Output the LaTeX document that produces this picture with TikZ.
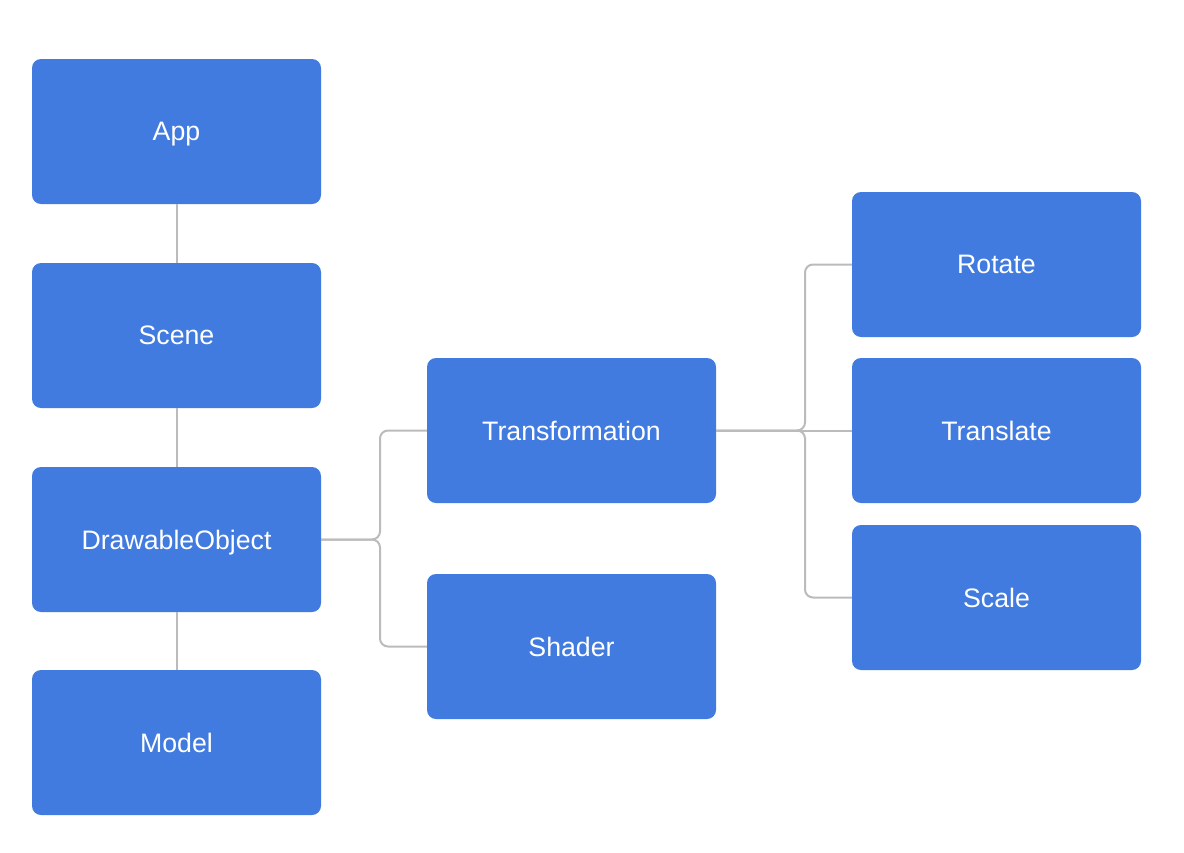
\documentclass[tikz,border=0pt]{standalone}
\usepackage{fontspec}
\setmainfont{Liberation Sans}
\definecolor{boxblue}{RGB}{65,123,223}
\definecolor{linkgray}{RGB}{187,187,187}
\begin{document}
\begin{tikzpicture}[
    x=1pt, y=-1pt,
    blk/.style={fill=boxblue, rounded corners=9pt, minimum width=289pt, minimum height=145pt,
      inner sep=0pt, text depth=0pt, text=white, font=\fontsize{26.7}{30}\selectfont},
    link/.style={draw=linkgray, line width=2pt, rounded corners=8pt}
  ]
  \useasboundingbox (0,0) rectangle (1184,852);
  % left column
  \node[blk] (app) at (176.5,131.5) {App};
  \node[blk] (scene) at (176.5,335.5) {Scene};
  \node[blk] (drawable) at (176.5,539.5) {DrawableObject};
  \node[blk] (model) at (176.5,742.5) {Model};
  % middle column
  \node[blk] (transf) at (571.5,430.5) {Transformation};
  \node[blk] (shader) at (571.5,646.5) {Shader};
  % right column
  \node[blk] (rotate) at (996.5,264.5) {Rotate};
  \node[blk] (translate) at (996.5,430.5) {Translate};
  \node[blk] (scale) at (996.5,597.5) {Scale};
  % junctions
  \coordinate (j1) at (380,539.5);
  \coordinate (j2) at (805,430.5);
  \draw[link] (app.south) -- (scene.north);
  \draw[link] (scene.south) -- (drawable.north);
  \draw[link] (drawable.south) -- (model.north);
  \draw[link] (drawable.east) -- (j1) |- (transf.west);
  \draw[link] (drawable.east) -- (j1) |- (shader.west);
  \draw[link] (transf.east) -- (j2) |- (rotate.west);
  \draw[link] (transf.east) -- (translate.west);
  \draw[link] (transf.east) -- (j2) |- (scale.west);
\end{tikzpicture}
\end{document}
